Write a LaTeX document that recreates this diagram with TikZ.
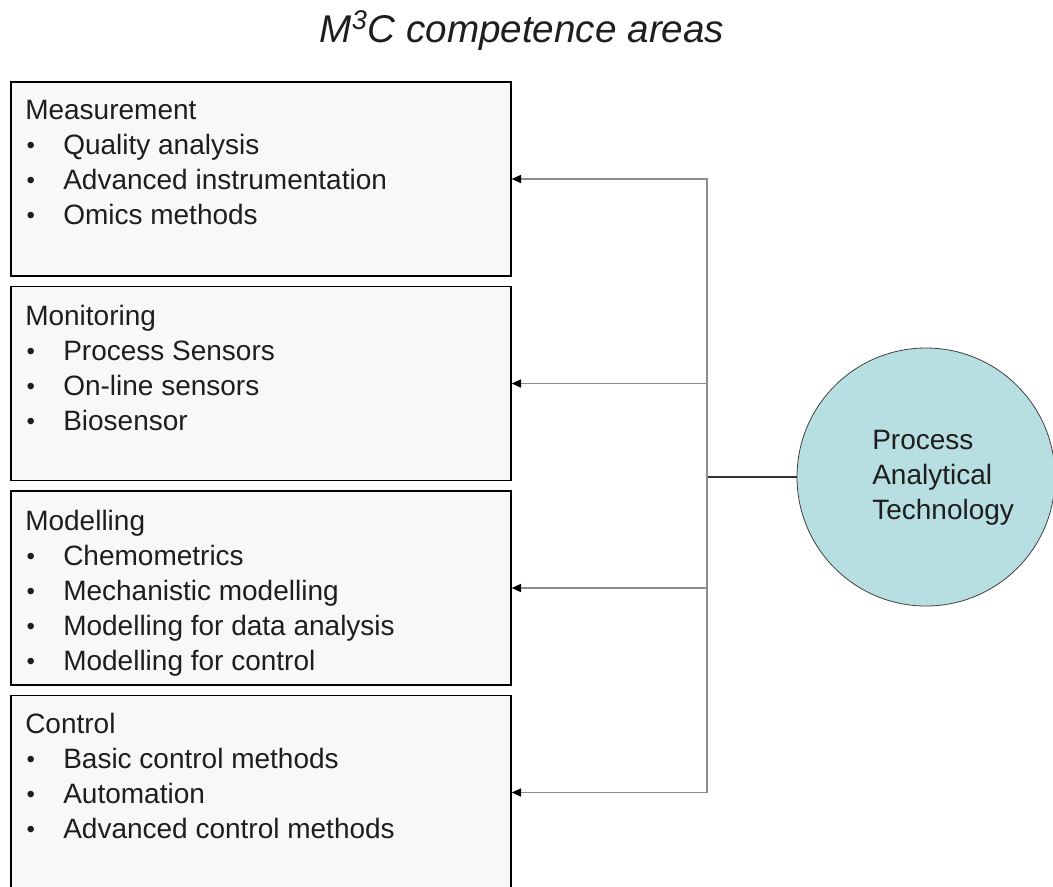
\documentclass[tikz,border=0pt]{standalone}
\usepackage{fontspec}
\setmainfont{Liberation Sans}
\usetikzlibrary{arrows.meta}
\definecolor{areafill}{HTML}{F8F8F8}
\definecolor{patfill}{HTML}{B7DEE1}
\definecolor{feedgray}{HTML}{8C8C8C}
\definecolor{inkgray}{HTML}{1E1E1E}
\newcommand{\bul}{\makebox[28.5pt][l]{\hspace{1pt}\raisebox{1pt}{\fontsize{18}{18}\selectfont\textbullet}}}
\begin{document}
\begin{tikzpicture}[x=0.75pt,y=0.75pt,yscale=-1,xscale=1,
  areabox/.style={draw=black,line width=1pt,fill=areafill,minimum width=375pt,minimum height=145.5pt,inner sep=0pt},
  arealist/.style={anchor=north west,inner sep=0pt,align=left,text=inkgray,font=\fontsize{21}{26.25}\selectfont},
  feed/.style={draw=feedgray,line width=1.1pt,-{Triangle[length=7pt,width=6pt,color=black]}}]
\useasboundingbox (0,0) rectangle (1053,886);
\clip (0,0) rectangle (1053,886);

% Text Node
	\node [anchor=base,text=inkgray,font=\fontsize{29}{34}\selectfont\itshape] (title) at (522,42) {M\textsuperscript{3}C competence areas};

%Shape: Rectangle
	\node [areabox] (meas) at (261,179) {};
%Shape: Rectangle
	\node [areabox] (moni) at (261,383.5) {};
%Shape: Rectangle
	\node [areabox] (mode) at (261,588) {};
%Shape: Rectangle
	\node [areabox] (ctrl) at (261,792.5) {};

% Text Node
	\node [arealist] (meastext) at (25,100) {Measurement\\\bul Quality analysis\\\bul Advanced instrumentation\\\bul Omics methods};
% Text Node
	\node [arealist] (monitext) at (25,305) {Monitoring\\\bul Process Sensors\\\bul On-line sensors\\\bul Biosensor};
% Text Node
	\node [arealist] (modetext) at (25,510) {Modelling\\\bul Chemometrics\\\bul Mechanistic modelling\\\bul Modelling for data analysis\\\bul Modelling for control};
% Text Node
	\node [arealist] (ctrltext) at (25,713) {Control\\\bul Basic control methods\\\bul Automation\\\bul Advanced control methods};

%Shape: Circle
	\node [circle,draw=black!75,line width=0.6pt,fill=patfill,minimum size=193.5pt,inner sep=0pt] (pat) at (926,477) {};
% Text Node
	\node [arealist] (pattext) at (872,430) {Process\\Analytical\\Technology};

%Straight Lines
	\coordinate (bus) at (707,477);
	\draw [draw=black!80,line width=0.8pt] (pat.west) -- (bus);
	\draw [feed] (bus) |- (meas.east);
	\draw [feed] (bus) |- (moni.east);
	\draw [feed] (bus) |- (mode.east);
	\draw [feed] (bus) |- (ctrl.east);

\end{tikzpicture}
\end{document}
